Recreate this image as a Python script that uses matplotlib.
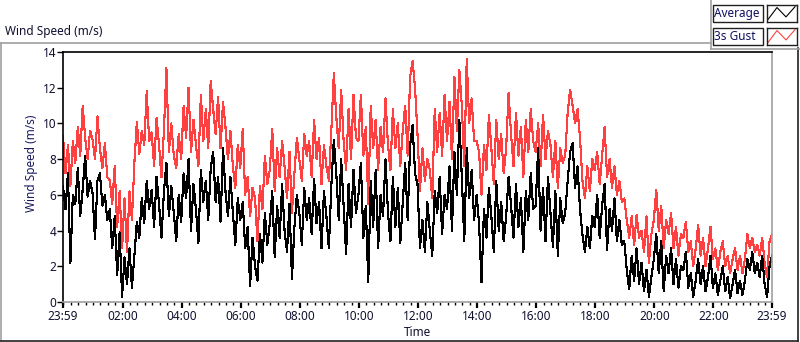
import matplotlib.pyplot as plt
import numpy as np
from matplotlib.patches import Rectangle
from matplotlib.lines import Line2D

# 5-minute samples, one row per hour (starting 23:59)
avg_speed = [
    6.5, 5.2, 7.2, 2.2, 6.0, 5.5, 7.5, 4.8, 6.3, 8.2, 5.9, 6.8,
    6.1, 3.5, 6.8, 7.2, 5.4, 6.0, 4.6, 5.2, 3.0, 4.8, 1.5, 3.9,
    0.3, 2.5, 1.0, 3.0, 0.8, 2.6, 4.5, 3.6, 5.8, 4.4, 6.8, 5.2,
    6.3, 4.2, 7.0, 5.5, 3.6, 6.2, 7.8, 4.8, 6.5, 5.0, 3.4, 6.0,
    4.5, 7.2, 5.8, 8.0, 4.0, 6.6, 5.2, 3.3, 7.4, 5.6, 6.8, 4.6,
    7.5, 8.4, 5.6, 7.0, 4.5, 8.6, 6.2, 4.8, 7.0, 5.0, 3.2, 5.8,
    4.6, 5.6, 3.0, 4.2, 0.9, 3.6, 2.0, 1.2, 3.8, 2.2, 5.0, 3.2,
    4.4, 6.2, 2.5, 5.4, 3.6, 6.6, 4.0, 2.8, 5.5, 1.3, 4.2, 6.0,
    5.0, 3.2, 6.4, 4.6, 5.8, 3.8, 6.9, 4.4, 5.6, 3.0, 6.2, 4.8,
    3.0, 6.5, 9.1, 7.2, 4.6, 8.0, 5.4, 2.7, 6.6, 4.2, 7.4, 5.0,
    6.0, 7.8, 3.6, 5.4, 1.1, 6.8, 4.2, 7.4, 3.0, 6.0, 4.8, 8.0,
    5.0, 3.4, 7.0, 4.2, 6.4, 3.3, 5.6, 7.8, 4.6, 8.8, 9.9, 7.2,
    6.6, 3.0, 4.6, 2.8, 5.6, 4.0, 2.6, 6.2, 5.0, 7.0, 3.8, 6.0,
    5.2, 7.6, 4.0, 8.4, 6.0, 10.2, 7.0, 3.4, 8.6, 5.8, 7.4, 4.6,
    6.0, 4.4, 1.1, 5.2, 3.6, 6.4, 4.8, 2.8, 6.8, 4.0, 5.6, 3.4,
    4.8, 7.0, 5.4, 3.6, 6.6, 4.2, 5.8, 2.8, 6.2, 4.6, 7.2, 5.2,
    5.4, 8.6, 4.0, 6.4, 3.4, 7.0, 5.0, 3.1, 6.2, 2.6, 5.8, 4.4,
    5.0, 6.8, 8.4, 8.9, 6.4, 7.6, 5.2, 3.8, 2.8, 4.2, 3.0, 4.8,
    4.2, 6.0, 3.6, 5.4, 6.6, 2.9, 5.2, 4.0, 5.8, 3.4, 4.6, 3.2,
    3.4, 1.8, 0.7, 2.6, 1.2, 3.0, 1.0, 2.2, 0.6, 1.8, 0.3, 1.4,
    2.4, 3.8, 1.6, 3.4, 0.6, 2.6, 1.6, 3.0, 1.0, 2.4, 0.8, 2.0,
    1.8, 2.8, 0.8, 1.6, 0.3, 1.2, 2.4, 1.0, 2.0, 0.6, 1.4, 2.6,
    0.8, 1.6, 0.4, 1.2, 2.0, 0.6, 1.4, 0.2, 1.0, 1.8, 0.5, 1.2,
    0.4, 1.2, 2.4, 1.8, 2.8, 1.6, 2.2, 1.4, 2.6, 1.0, 0.3, 2.0, 2.6,
]

gust_speed = [
    9.3, 7.2, 8.8, 6.5, 9.0, 7.8, 9.8, 8.2, 11.0, 9.2, 8.0, 9.6,
    9.1, 8.0, 10.4, 8.6, 7.5, 8.9, 7.0, 6.8, 5.5, 7.6, 4.2, 6.2,
    3.0, 5.8, 2.8, 6.2, 4.6, 7.8, 10.1, 8.3, 9.6, 8.8, 11.8, 9.0,
    9.5, 7.6, 10.3, 8.8, 7.0, 9.6, 13.1, 8.4, 10.0, 8.2, 7.5, 9.4,
    8.0, 11.0, 9.2, 12.0, 8.4, 10.2, 8.8, 7.6, 11.6, 9.0, 10.8, 8.6,
    12.4, 10.8, 9.4, 11.5, 8.6, 11.2, 9.8, 8.0, 9.6, 7.6, 6.4, 8.8,
    7.5, 9.7, 6.0, 7.0, 4.8, 6.4, 5.8, 3.4, 6.5, 5.2, 8.2, 6.6,
    7.4, 9.7, 6.2, 8.6, 7.0, 9.0, 7.6, 5.8, 8.4, 5.0, 7.2, 9.2,
    8.0, 6.8, 9.4, 8.2, 9.0, 7.0, 10.2, 8.0, 9.2, 6.6, 8.8, 7.6,
    6.8, 9.6, 12.8, 10.4, 8.6, 11.9, 9.0, 7.4, 10.8, 8.0, 11.6, 9.2,
    9.0, 11.6, 8.2, 9.8, 5.5, 11.0, 8.6, 10.2, 7.4, 9.8, 8.4, 11.4,
    8.8, 7.4, 10.8, 8.6, 10.0, 7.6, 9.6, 11.0, 8.2, 12.6, 13.5, 12.0,
    9.4, 6.2, 8.6, 6.8, 8.0, 7.4, 5.8, 10.8, 8.4, 10.6, 8.2, 11.6,
    9.0, 11.2, 8.0, 12.6, 9.6, 13.0, 11.0, 7.6, 13.6, 10.0, 11.4, 9.0,
    9.0, 8.4, 6.0, 8.8, 7.4, 10.5, 8.6, 6.6, 10.2, 8.0, 9.4, 7.2,
    8.6, 11.7, 9.4, 7.6, 10.6, 8.2, 9.8, 7.0, 10.2, 8.4, 10.8, 9.0,
    8.4, 10.0, 7.6, 10.5, 8.0, 9.6, 8.8, 7.0, 9.0, 6.4, 8.6, 7.8,
    8.2, 10.6, 11.9, 11.0, 10.0, 10.8, 9.2, 6.8, 5.8, 7.6, 6.2, 8.0,
    7.4, 8.4, 6.6, 8.2, 9.8, 7.0, 8.0, 6.4, 7.6, 6.0, 6.8, 5.6,
    5.8, 4.6, 3.6, 4.8, 3.2, 4.9, 3.6, 4.0, 2.8, 4.8, 2.2, 3.8,
    4.6, 6.3, 4.0, 5.4, 3.0, 4.6, 3.8, 5.0, 3.0, 4.2, 2.6, 3.8,
    3.6, 4.5, 2.8, 3.4, 2.0, 3.0, 4.3, 2.6, 3.6, 2.0, 3.0, 4.2,
    2.4, 3.0, 1.8, 2.8, 3.4, 2.0, 2.6, 1.6, 2.4, 3.0, 1.8, 2.6,
    1.6, 2.4, 3.8, 3.0, 3.6, 2.8, 3.2, 2.6, 3.6, 2.2, 1.4, 3.4, 3.8,
]

tick_minutes = [0, 121, 241, 361, 481, 601, 721, 841, 961, 1081, 1201, 1321, 1440]
tick_labels = ["23:59", "02:00", "04:00", "06:00", "08:00", "10:00", "12:00",
               "14:00", "16:00", "18:00", "20:00", "22:00", "23:59"]

W, H = 800, 342
FONT = "Noto Sans"
TXT = "#101030"


def fx(px):
    return px / W


def fy(py):
    return 1 - py / H


minutes = np.arange(len(avg_speed)) * 5

fig = plt.figure(figsize=(W / 100, H / 100), dpi=100)
fig.patch.set_facecolor("white")

ax = fig.add_axes([fx(63), fy(302), fx(772) - fx(63), fy(52) - fy(302)])
ax.plot(minutes, gust_speed, color="#ff4040", lw=0.8, antialiased=False)
ax.plot(minutes, avg_speed, color="black", lw=0.8, antialiased=False)

ax.set_xlim(0, 1440)
ax.set_ylim(0, 14)
ax.set_yticks(range(0, 15, 2))
ax.set_xticks(tick_minutes)
ax.set_xticklabels(tick_labels)
ax.set_xticks(np.arange(1, 1440, 15), minor=True)

ax.tick_params(axis="y", direction="out", length=4, width=1, pad=1,
               labelsize=8.5, labelcolor=TXT)
ax.tick_params(axis="x", which="major", direction="out", length=4, width=1.6,
               pad=2, labelsize=8.5, labelcolor=TXT)
ax.tick_params(axis="x", which="minor", direction="out", length=2.5, width=1)
for lab in ax.get_xticklabels() + ax.get_yticklabels():
    lab.set_family(FONT)

ax.spines["top"].set_color("black")
ax.spines["left"].set_color("black")
ax.spines["bottom"].set_color("#a0a0a0")
ax.spines["right"].set_color("#a0a0a0")
for s in ax.spines.values():
    s.set_linewidth(1.2)

# axis titles placed in figure pixels
fig.text(fx(404), fy(332), "Time", family=FONT, fontsize=8.5, color=TXT,
         ha="left", va="center")
fig.text(fx(32), fy(163), "Wind Speed (m/s)", family=FONT, fontsize=8.5,
         color="#1a1a60", ha="center", va="center", rotation=90)

# chart title
fig.text(fx(5), fy(32), "Wind Speed (m/s)", family=FONT, fontsize=8.5,
         color=TXT, va="center", ha="left")

# window frame
gray = "#a0a0a0"
fig.add_artist(Line2D([fx(0), fx(711)], [fy(42.5)] * 2, color=gray, lw=1.2))
fig.add_artist(Line2D([fx(1)] * 2, [fy(42.5), fy(340)], color=gray, lw=1.2))
fig.add_artist(Line2D([fx(0), fx(798)], [fy(340.5)] * 2, color="#202020", lw=1.2))
fig.add_artist(Line2D([fx(797.5)] * 2, [fy(48), fy(341)], color="#202020", lw=1.2))

# legend panel
fig.add_artist(Line2D([fx(711)] * 2, [fy(0), fy(48.5)], color=gray, lw=1.2))
fig.add_artist(Line2D([fx(711), fx(800)], [fy(48.5)] * 2, color=gray, lw=1.2))

legend_names = ["Average", "3s Gust"]
legend_colors = ["black", "#ff4040"]
for i, (name, col) in enumerate(zip(legend_names, legend_colors)):
    top = 5 + i * 23
    fig.add_artist(Rectangle((fx(712.5), fy(top + 17)), 50 / W, 17 / H,
                             transform=fig.transFigure, facecolor="white",
                             edgecolor="#202020", lw=1))
    fig.text(fx(714), fy(top + 8.5), name, family=FONT, fontsize=8.5,
             color="#101060", va="center", ha="left")
    sax = fig.add_axes([fx(766.5), fy(top + 17), 30 / W, 17 / H])
    sax.set_xticks([])
    sax.set_yticks([])
    for s in sax.spines.values():
        s.set_color("#202020")
        s.set_linewidth(1)
    sax.plot([0.05, 0.35, 0.65, 0.95], [0.15, 0.85, 0.3, 0.9], color=col,
             lw=0.8)
    sax.set_xlim(0, 1)
    sax.set_ylim(0, 1)

fig.savefig("out.png", dpi=100)
